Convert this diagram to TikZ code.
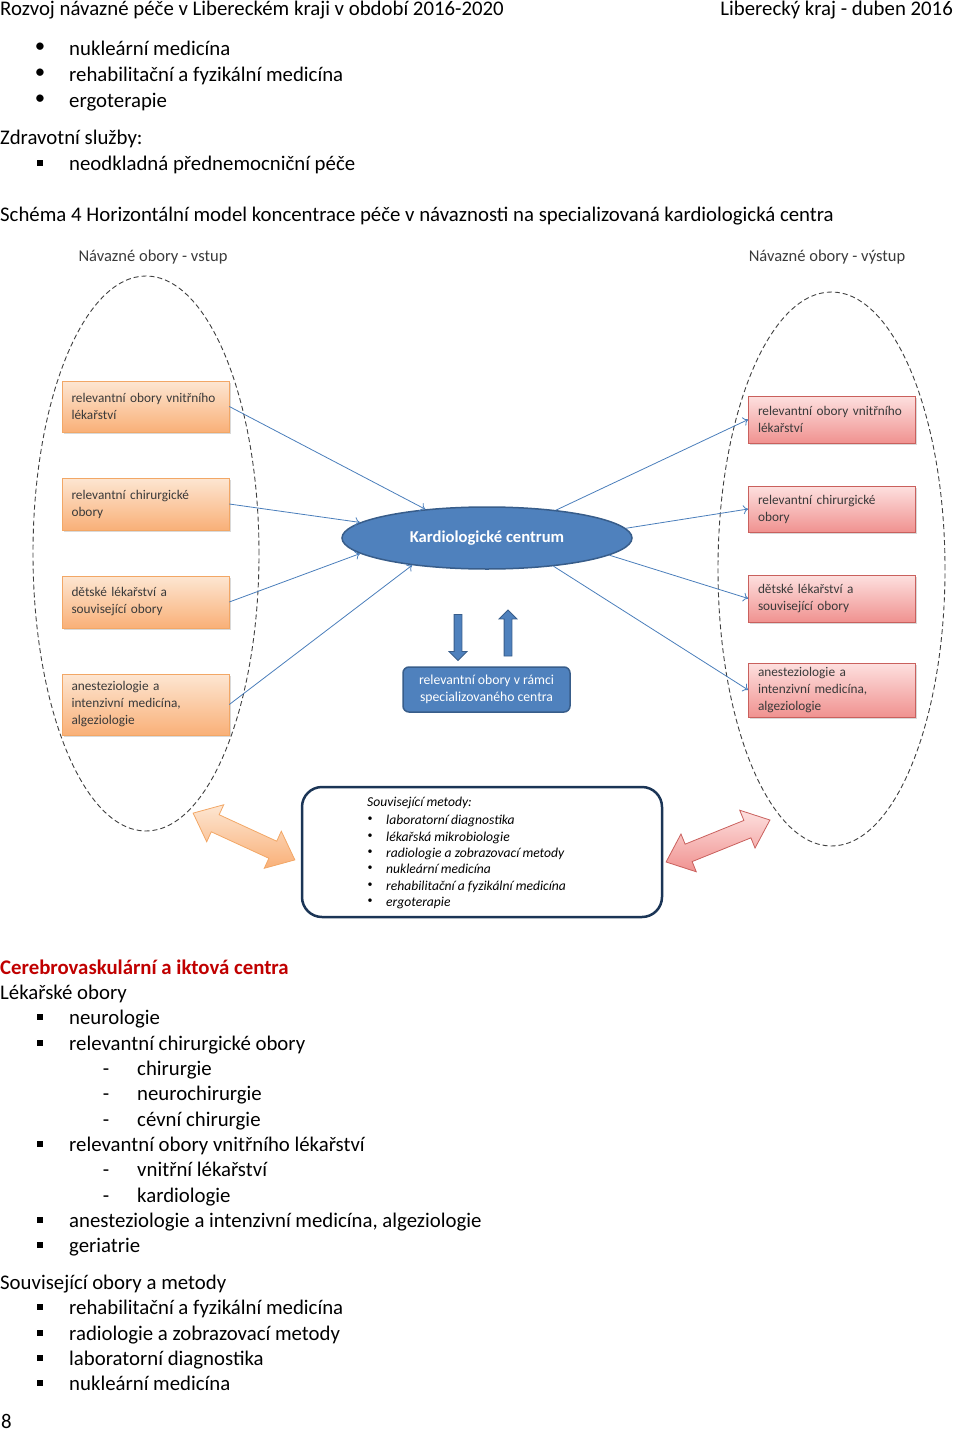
\documentclass[tikz,border=0pt]{standalone}
\usepackage{fontspec}
\setmainfont{Carlito}
\usetikzlibrary{positioning,shapes.geometric,shapes.arrows,shadows,arrows.meta}

\definecolor{kblue}{HTML}{4F81BD}
\definecolor{kblueline}{HTML}{385D8A}
\definecolor{linkblue}{HTML}{4A7EBB}
\definecolor{navy}{HTML}{1B3556}
\definecolor{orangetop}{HTML}{FDE6D2}
\definecolor{orangebot}{HTML}{F9B078}
\definecolor{orangeline}{HTML}{F2A766}
\definecolor{pinktop}{HTML}{FDE0DF}
\definecolor{pinkbot}{HTML}{F09290}
\definecolor{pinkline}{HTML}{C9605D}
\definecolor{boxtext}{HTML}{3A3A3A}
\definecolor{ringgray}{HTML}{3F3F3F}
\definecolor{darkred}{HTML}{C00000}

\newcommand{\fs}[2]{\fontsize{#1pt}{#2pt}\selectfont}

\tikzset{
	txt/.style={anchor=base west, inner sep=0pt, font=\fs{20.8}{25}},
	blt/.style={inner sep=0pt, font=\fs{20.8}{25}},
	sq/.style={fill=black, inner sep=0pt, minimum size=6pt},
	ring/.style={ellipse, draw=ringgray, line width=0.9pt, dash pattern=on 5pt off 3pt, inner sep=0pt},
	ringlabel/.style={inner sep=0pt, text=boxtext, font=\fs{16.5}{19}},
	fieldbox/.style={rectangle, minimum width=167pt, text width=148pt, inner xsep=9.5pt, inner ysep=0pt,
		align=left, text=boxtext, font=\fs{13.3}{17}, line width=0.6pt,
		drop shadow={shadow xshift=1.5pt, shadow yshift=-2pt, opacity=0.3}},
	inbox/.style={fieldbox, top color=orangetop, bottom color=orangebot, draw=orangeline},
	outbox/.style={fieldbox, top color=pinktop, bottom color=pinkbot, draw=pinkline},
	link/.style={draw=linkblue, line width=0.8pt, -{To[length=5pt,width=9pt]}},
	blockarrow/.style={single arrow, fill=kblue, draw=kblueline, line width=0.8pt, inner sep=3.5pt,
		single arrow head extend=5pt, minimum height=46pt},
	dblarrow/.style={double arrow, inner sep=9pt, double arrow head extend=11pt,
		double arrow tip angle=80, minimum height=112pt, line width=0.8pt},
	mtxt/.style={anchor=base west, inner sep=0pt, font=\itshape\fs{13.6}{16}},
}

\begin{document}
\begin{tikzpicture}[x=1pt, y=-1pt]
	\useasboundingbox (0,0) rectangle (960,1434);
	\node[txt] (hdl) at (0,16) {Rozvoj návazné péče v Libereckém kraji v období 2016-2020};
	\node[txt, anchor=base east] (hdr) at (953,16) {Liberecký kraj - duben 2016};

	\foreach \y/\t [count=\i] in {47/nukleární medicína, 73/rehabilitační a fyzikální medicína, 99/ergoterapie}{
		\node[blt] (dot\i) at (40,{\y+1}) {•};
		\node[txt] (top\i) at (69,{\y+8.5}) {\t};
	}
	\node[txt] (zs) at (0,144.5) {Zdravotní služby:};
	\node[sq] (zsq) at (40,163) {};
	\node[txt] (zsi) at (69,170.5) {neodkladná přednemocniční péče};
	\node[txt] (cap) at (0,221.5) {Schéma 4 Horizontální model koncentrace péče v návaznosti na specializovaná kardiologická centra};

	% diagram
	\node[ring, minimum width=226pt, minimum height=555pt] (ringin) at (146,553.5) {};
	\node[ring, minimum width=227pt, minimum height=554pt] (ringout) at (831.5,569) {};
	\node[ringlabel] (labin) at (153,257) {Návazné obory - vstup};
	\node[ringlabel] (labout) at (827,257) {Návazné obory - výstup};

	\node[inbox, minimum height=51pt] (in1) at (145.5,406.5) {relevantní obory vnitřního\\lékařství};
	\node[inbox, minimum height=52pt] (in2) at (145.5,504) {relevantní chirurgické\\obory};
	\node[inbox, minimum height=52pt] (in3) at (145.5,602) {dětské lékařství a\\související obory};
	\node[inbox, minimum height=61pt] (in4) at (145.5,704.5) {anesteziologie a\\intenzivní medicína,\\algeziologie};

	\node[outbox, minimum height=47pt] (out1) at (832,419.5) {relevantní obory vnitřního\\lékařství};
	\node[outbox, minimum height=46pt] (out2) at (832,509) {relevantní chirurgické\\obory};
	\node[outbox, minimum height=47pt] (out3) at (832,598.5) {dětské lékařství a\\související obory};
	\node[outbox, minimum height=54pt] (out4) at (832,690) {anesteziologie a\\intenzivní medicína,\\algeziologie};

	\node[ellipse, fill=kblue, draw=kblueline, line width=1.5pt, minimum width=290pt, minimum height=62pt,
		inner sep=0pt, text=white, font=\bfseries\fs{16.6}{19}] (kc) at (487,538) {Kardiologické centrum};

	\draw[link] (in1.east) -- (kc.155);
	\draw[link] (in2.east) -- (kc.173);
	\draw[link] (in3.east) -- (kc.187);
	\draw[link] (in4.east) -- (kc.200);
	\draw[link] (kc.22) -- (out1.west);
	\draw[link] (kc.4) -- (out2.west);
	\draw[link] (kc.352) -- (out3.west);
	\draw[link] (kc.337) -- (out4.west);

	\node[blockarrow, shape border rotate=270] (down) at (458,635.5) {};
	\node[blockarrow, shape border rotate=90] (up) at (508,635) {};
	\node[rectangle, rounded corners=6pt, fill=kblue, draw=kblueline, line width=1.5pt, minimum width=167pt,
		minimum height=45pt, align=center, text=white, font=\fs{13.7}{16.5}] (spec) at (486.5,689.5)
		{relevantní obory v rámci\\specializovaného centra};

	\node[rectangle, rounded corners=20pt, draw=navy, line width=2.5pt, fill=white, minimum width=360pt,
		minimum height=130pt] (met) at (482,852) {};
	\node[mtxt] (methead) at (367,806.5) {Související metody:};
	\foreach \y/\t [count=\i] in {819/laboratorní diagnostika, 836/lékařská mikrobiologie, 852/radiologie a zobrazovací metody,
		868/nukleární medicína, 885/rehabilitační a fyzikální medicína, 901/ergoterapie}{
		\node[inner sep=0pt, font=\fs{10}{12}] (mdot\i) at (370,{\y+0.5}) {•};
		\node[mtxt] (mitem\i) at (386,{\y+5}) {\t};
	}

	\node[dblarrow, top color=orangetop, bottom color=orangebot, draw=orangeline, rotate=-24.7] (leftlink) at (244,836.5) {};
	\node[dblarrow, top color=pinktop, bottom color=pinkbot, draw=pinkline, rotate=22] (rightlink) at (718,841) {};

	% text below
	\node[txt, text=darkred, font=\bfseries\fs{20.8}{25}] (cer) at (0,974.5) {Cerebrovaskulární a iktová centra};
	\node[txt] (lek) at (0,999.5) {Lékařské obory};
	\foreach \y/\t [count=\i] in {1016/neurologie, 1042/relevantní chirurgické obory, 1143/relevantní obory vnitřního lékařství,
		1219/{anesteziologie a intenzivní medicína, algeziologie}, 1244/geriatrie}{
		\node[sq] (lsq\i) at (40,{\y+1}) {};
		\node[txt] (litem\i) at (69,{\y+8.5}) {\t};
	}
	\foreach \y/\t [count=\i] in {1067/chirurgie, 1092/neurochirurgie, 1118/cévní chirurgie, 1168/vnitřní lékařství, 1194/kardiologie}{
		\node[txt, anchor=base] (dash\i) at (106,{\y+8.5}) {-};
		\node[txt] (sub\i) at (137,{\y+8.5}) {\t};
	}
	\node[txt] (sou) at (0,1289.5) {Související obory a metody};
	\foreach \y/\t [count=\i] in {1306/rehabilitační a fyzikální medicína, 1332/radiologie a zobrazovací metody,
		1357/laboratorní diagnostika, 1382/nukleární medicína}{
		\node[sq] (ssq\i) at (40,{\y+1}) {};
		\node[txt] (sitem\i) at (69,{\y+8.5}) {\t};
	}
	\node[txt] (page) at (1,1428) {8};
\end{tikzpicture}
\end{document}
